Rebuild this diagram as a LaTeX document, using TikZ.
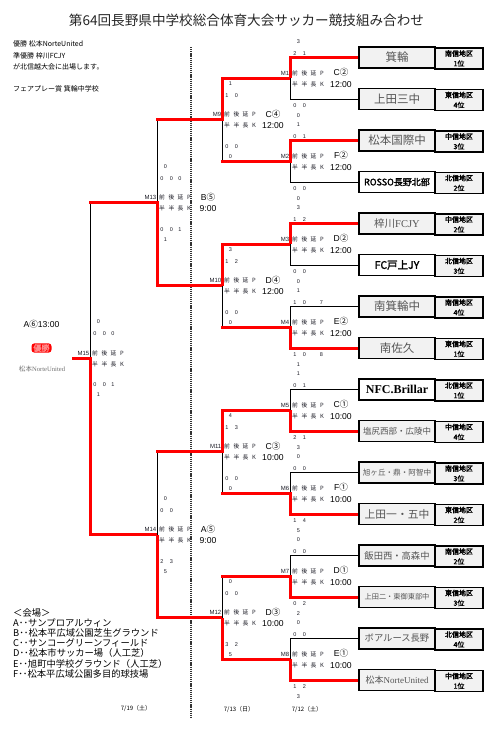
\documentclass[tikz,border=0pt]{standalone}
\usepackage{fontspec}
\setmainfont{Liberation Sans}
\newfontfamily\jp{Noto Sans CJK JP}
\newfontfamily\jpb[FakeBold=2]{Noto Sans CJK JP}
\newfontfamily\lserif{Liberation Serif}
\definecolor{boxgray}{HTML}{F2F2F2}
\definecolor{namegray}{HTML}{555555}
\definecolor{numcol}{HTML}{1E1E28}
\tikzset{
  win/.style={draw=red, line width=3pt, line join=miter},
  winstub/.style={draw=red, line width=3pt, line cap=rect},
  lose/.style={draw=black, line width=0.9pt},
  namebox/.style={draw, line width=1.2pt, minimum width=76pt, minimum height=21pt, inner sep=0pt, fill=boxgray, text=namegray},
  boldbox/.style={namebox, fill=white, text=black},
  nm/.style={namebox, font=\jp\fontsize{#1}{#1}\selectfont},
  nmb/.style={boldbox, font=\jpb\fontsize{#1}{#1}\selectfont},
  regbox/.style={draw, line width=1.2pt, minimum width=48pt, minimum height=21pt, inner sep=0pt, fill=boxgray, align=center, font=\jpb\fontsize{7}{10}\selectfont},
  mtxt/.style={inner sep=0pt, font=\fontsize{6}{6}\selectfont, text=numcol},
  htxt/.style={inner sep=0pt, font=\jp\fontsize{5.8}{6}\selectfont, text=numcol},
  stxt/.style={inner sep=0pt, font=\fontsize{5.5}{6}\selectfont, text=numcol},
  vtxt/.style={inner sep=0pt, font=\fontsize{8.6}{9}\selectfont},
  ltxt/.style={inner sep=0pt, anchor=west, font=\jp\fontsize{7}{8}\selectfont},
  venue/.style={inner sep=0pt, anchor=west, font=\jp\fontsize{9.3}{10}\selectfont},
  dtxt/.style={inner sep=0pt, font=\jp\fontsize{6}{6}\selectfont},
  dashline/.style={draw=black!80, line width=1.1pt, dash pattern=on 1.2pt off 0.9pt}
}
\newcommand\team[4]{%
  \node[#3] (#1) at (397,{57.5+41.5*(#2-1)}) {#4};}
\newcommand\region[4]{%
  \node[regbox] (#1) at (459,{58.5+41.5*(#2-1)}) {#3\\#4};}
\newcommand\opt[3]{\if\relax\detokenize{#3}\relax\else\node[stxt] (#1) at (#2) {#3};\fi}
\newcommand\tops[8]{%
  \opt{#1tt}{{#2+8.5},{#3-36.5}}{#4}%
  \opt{#1ta}{{#2+5},{#3-24.5}}{#5}%
  \opt{#1tb}{{#2+14.5},{#3-24.5}}{#6}%
  \opt{#1tc}{{#2+23},{#3-24.5}}{#7}%
  \opt{#1td}{{#2+31.5},{#3-24.5}}{#8}}
\newcommand\bots[8]{%
  \opt{#1ba}{{#2+5},{#3+27}}{#4}%
  \opt{#1bb}{{#2+14.5},{#3+27}}{#5}%
  \opt{#1bc}{{#2+23},{#3+27}}{#6}%
  \opt{#1bd}{{#2+31.5},{#3+27}}{#7}%
  \opt{#1bt}{{#2+8.5},{#3+37}}{#8}}
\newcommand\mhead[3]{%
  \node[mtxt, anchor=east] (#1lab) at ({#2-0.5},{#3-5}) {#1};
  \node[htxt] (#1h1) at ({#2+5},{#3-5}) {前};
  \node[htxt] (#1h2) at ({#2+14.5},{#3-5}) {後};
  \node[htxt] (#1h3) at ({#2+23.5},{#3-5}) {延};
  \node[htxt] (#1h4) at ({#2+32},{#3-5}) {P};
  \node[htxt] (#1h5) at ({#2+5},{#3+6}) {半};
  \node[htxt] (#1h6) at ({#2+14.5},{#3+6}) {半};
  \node[htxt] (#1h7) at ({#2+23.5},{#3+6}) {長};
  \node[htxt] (#1h8) at ({#2+32},{#3+6}) {K};}
\newcommand\mvenue[5]{%
  \node[vtxt] (#1v) at ({#2+51},{#3-6}) {#4};
  \node[vtxt] (#1t) at ({#2+51},{#3+6}) {#5};}
\begin{document}
\begin{tikzpicture}[x=1pt,y=-1pt]
\useasboundingbox (0,0) rectangle (495,731);
\fill[white] (0,0) rectangle (495,731);

% title and notes
\node[inner sep=0pt, font=\jp\fontsize{13.6}{15}\selectfont, text=black!85] (title) at (246.5,20) {第64回長野県中学校総合体育大会サッカー競技組み合わせ};
\node[ltxt] (n1) at (13,44) {優勝 松本NorteUnited};
\node[ltxt] (n2) at (13,55.5) {準優勝 梓川FCJY};
\node[ltxt] (n3) at (13,67) {が北信越大会に出場します。};
\node[ltxt] (n4) at (13,89) {フェアプレー賞 箕輪中学校};

% dashed separator
\draw[dashline] (191,47) -- (191,717);

% team boxes
\team{t1}{1}{nm=11.5}{箕輪}
\team{t2}{2}{nm=11.5}{上田三中}
\team{t3}{3}{nm=11.5}{松本国際中}
\team{t4}{4}{nmb=9}{ROSSO長野北部}
\team{t5}{5}{nm=10.5}{梓川{\lserif FCJY}}
\team{t6}{6}{nmb=10.5}{FC戸上JY}
\team{t7}{7}{nm=11.5}{南箕輪中}
\team{t8}{8}{nm=11.5}{南佐久}
\team{t9}{9}{boldbox, font=\lserif\bfseries\fontsize{12}{12}\selectfont}{NFC.Brillar}
\team{t10}{10}{nm=8.5}{塩尻西部・広陵中}
\team{t11}{11}{nm=7.6}{旭ヶ丘・鼎・阿智中}
\team{t12}{12}{nm=10.8}{上田一・五中}
\team{t13}{13}{nm=9.3}{飯田西・高森中}
\team{t14}{14}{nm=7.2}{上田二・東御東部中}
\team{t15}{15}{nm=9.3}{ボアルース長野}
\team{t16}{16}{nm=9}{松本{\lserif NorteUnited}}
\region{r1}{1}{南信地区}{1位}
\region{r2}{2}{東信地区}{4位}
\region{r3}{3}{中信地区}{3位}
\region{r4}{4}{北信地区}{2位}
\region{r5}{5}{中信地区}{2位}
\region{r6}{6}{北信地区}{3位}
\region{r7}{7}{南信地区}{4位}
\region{r8}{8}{東信地区}{1位}
\region{r9}{9}{北信地区}{1位}
\region{r10}{10}{中信地区}{4位}
\region{r11}{11}{南信地区}{3位}
\region{r12}{12}{東信地区}{2位}
\region{r13}{13}{南信地区}{2位}
\region{r14}{14}{東信地区}{3位}
\region{r15}{15}{北信地区}{4位}
\region{r16}{16}{中信地区}{1位}

% match points
\coordinate (M1) at (290,78.25);
\coordinate (M2) at (290,161.25);
\coordinate (M3) at (290,244.25);
\coordinate (M4) at (290,327.25);
\coordinate (M5) at (290,410.25);
\coordinate (M6) at (290,493.25);
\coordinate (M7) at (290,576.25);
\coordinate (M8) at (290,659.25);
\coordinate (M9) at (222,119.75);
\coordinate (M10) at (222,285.75);
\coordinate (M11) at (222,451.75);
\coordinate (M12) at (222,617.75);
\coordinate (M13) at (157,202.75);
\coordinate (M14) at (157,534.75);
\coordinate (M15) at (90,358);
\coordinate (champ) at (72,358);

% round 1 losers
\draw[lose] (t2.west) -| (M1);
\draw[lose] (t4.west) -| (M2);
\draw[lose] (t6.west) -| (M3);
\draw[lose] (t7.west) -| (M4);
\draw[lose] (t9.west) -| (M5);
\draw[lose] (t11.west) -| (M6);
\draw[lose] (t13.west) -| (M7);
\draw[lose] (t15.west) -| (M8);
% later round losers
\draw[lose] (M2 -| M9) -- (M9);
\draw[lose] (M4 -| M10) -- (M10);
\draw[lose] (M6 -| M11) -- (M11);
\draw[lose] (M7 -| M12) -- (M12);
\draw[lose] (M9 -| M13) -- (M13);
\draw[lose] (M11 -| M14) -- (M14);
\draw[lose] (M13 -| M15) -- (M15);
% winners
\draw[win] (t1.west) -| (M1);
\draw[win] (t3.west) -| (M2);
\draw[win] (t5.west) -| (M3);
\draw[win] (t8.west) -| (M4);
\draw[win] (t10.west) -| (M5);
\draw[win] (t12.west) -| (M6);
\draw[win] (t14.west) -| (M7);
\draw[win] (t16.west) -| (M8);
\draw[win] (M1) -| (M9);
\draw[winstub] (M2) -- (M2 -| M9);
\draw[win] (M3) -| (M10);
\draw[winstub] (M4) -- (M4 -| M10);
\draw[win] (M5) -| (M11);
\draw[winstub] (M6) -- (M6 -| M11);
\draw[winstub] (M7) -- (M7 -| M12);
\draw[win] (M8) -| (M12);
\draw[winstub] (M9) -- (M9 -| M13);
\draw[win] (M10) -| (M13);
\draw[winstub] (M11) -- (M11 -| M14);
\draw[win] (M12) -| (M14);
\draw[winstub] (M13) -- (M13 -| M15);
\draw[win] (M14) -| (M15) -- (champ);

% match headers
\mhead{M1}{290}{78.25}  \mvenue{M1}{290}{78.25}{C{\jp ②}}{12:00}
\mhead{M2}{290}{161.25} \mvenue{M2}{290}{161.25}{F{\jp ②}}{12:00}
\mhead{M3}{290}{244.25} \mvenue{M3}{290}{244.25}{D{\jp ②}}{12:00}
\mhead{M4}{290}{327.25} \mvenue{M4}{290}{327.25}{E{\jp ②}}{12:00}
\mhead{M5}{290}{410.25} \mvenue{M5}{290}{410.25}{C{\jp ①}}{10:00}
\mhead{M6}{290}{493.25} \mvenue{M6}{290}{493.25}{F{\jp ①}}{10:00}
\mhead{M7}{290}{576.25} \mvenue{M7}{290}{576.25}{D{\jp ①}}{10:00}
\mhead{M8}{290}{659.25} \mvenue{M8}{290}{659.25}{E{\jp ①}}{10:00}
\mhead{M9}{222}{119.75} \mvenue{M9}{222}{119.75}{C{\jp ④}}{12:00}
\mhead{M10}{222}{285.75} \mvenue{M10}{222}{285.75}{D{\jp ④}}{12:00}
\mhead{M11}{222}{451.75} \mvenue{M11}{222}{451.75}{C{\jp ③}}{10:00}
\mhead{M12}{222}{617.75} \mvenue{M12}{222}{617.75}{D{\jp ③}}{10:00}
\mhead{M13}{157}{202.75} \mvenue{M13}{157}{202.75}{B{\jp ⑤}}{9:00}
\mhead{M14}{157}{534.75} \mvenue{M14}{157}{534.75}{A{\jp ⑤}}{9:00}
\mhead{M15}{90}{358}

% scores
\tops{M1}{290}{78.25}{3}{2}{1}{}{}      \bots{M1}{290}{78.25}{0}{0}{}{}{0}
\tops{M2}{290}{161.25}{1}{0}{1}{}{}     \bots{M2}{290}{161.25}{0}{0}{}{}{0}
\tops{M3}{290}{244.25}{3}{1}{2}{}{}     \bots{M3}{290}{244.25}{0}{0}{}{}{0}
\tops{M4}{290}{327.25}{1}{1}{0}{}{7}    \bots{M4}{290}{327.25}{1}{0}{}{8}{1}
\tops{M5}{290}{410.25}{1}{0}{1}{}{}     \bots{M5}{290}{410.25}{2}{1}{}{}{3}
\tops{M6}{290}{493.25}{0}{0}{0}{}{}     \bots{M6}{290}{493.25}{1}{4}{}{}{5}
\tops{M7}{290}{576.25}{0}{0}{0}{}{}     \bots{M7}{290}{576.25}{0}{2}{}{}{2}
\tops{M8}{290}{659.25}{0}{0}{0}{}{}     \bots{M8}{290}{659.25}{1}{2}{}{}{3}
\tops{M9}{222}{119.75}{1}{1}{0}{}{}     \bots{M9}{222}{119.75}{0}{0}{}{}{0}
\tops{M10}{222}{285.75}{3}{1}{2}{}{}    \bots{M10}{222}{285.75}{0}{0}{}{}{0}
\tops{M11}{222}{451.75}{4}{1}{3}{}{}    \bots{M11}{222}{451.75}{0}{0}{}{}{0}
\tops{M12}{222}{617.75}{0}{0}{0}{}{}    \bots{M12}{222}{617.75}{3}{2}{}{}{5}
\tops{M13}{157}{202.75}{0}{0}{0}{0}{}   \bots{M13}{157}{202.75}{0}{0}{1}{}{1}
\tops{M14}{157}{534.75}{0}{0}{0}{}{}    \bots{M14}{157}{534.75}{2}{3}{}{}{5}
\tops{M15}{90}{358}{0}{0}{0}{0}{}       \bots{M15}{90}{358}{0}{0}{1}{}{1}

% final
\node[inner sep=0pt, font=\fontsize{8.6}{9}\selectfont] (fv) at (41.5,324) {A{\jp ⑥}13:00};
\node[fill=red, rounded corners=3pt, inner xsep=2pt, inner ysep=1pt, text=red!45!white, font=\jpb\fontsize{8}{8}\selectfont] (yusho) at (41.5,348) {優勝};
\node[inner sep=0pt, text=black!55, font=\lserif\fontsize{6.6}{7}\selectfont] (champname) at (42,369) {{\jp 松本}NorteUnited};

% venues
\node[venue] (v0) at (13,613) {＜会場＞};
\node[venue] (v1) at (13,623) {A･･サンプロアルウィン};
\node[venue] (v2) at (13,633) {B･･松本平広域公園芝生グラウンド};
\node[venue] (v3) at (13,643) {C･･サンコーグリーンフィールド};
\node[venue] (v4) at (13,653) {D･･松本市サッカー場（人工芝）};
\node[venue] (v5) at (13,663.5) {E･･旭町中学校グラウンド（人工芝）};
\node[venue] (v6) at (13,674) {F･･松本平広域公園多目的球技場};

% dates
\node[dtxt] (d1) at (136,708) {7/19（土）};
\node[dtxt] (d2) at (239,709) {7/13（日）};
\node[dtxt] (d3) at (307,709) {7/12（土）};
\end{tikzpicture}
\end{document}
